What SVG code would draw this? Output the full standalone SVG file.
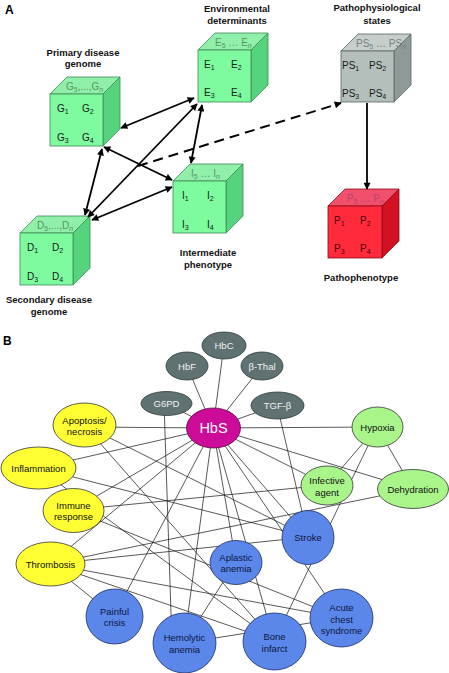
<svg xmlns="http://www.w3.org/2000/svg" width="449" height="673" viewBox="0 0 449 673">
<defs>
<marker id="ah" viewBox="0 0 10 10" refX="9" refY="5" markerWidth="9" markerHeight="7" markerUnits="userSpaceOnUse" orient="auto-start-reverse"><path d="M0,0 L10,5 L0,10 z" fill="#000"/></marker>
</defs>
<style>
text{font-family:"Liberation Sans",Arial,sans-serif}
.lbl{font-size:9.5px;font-weight:bold;fill:#111;text-anchor:middle}
.panel{font-size:12px;font-weight:bold;fill:#000}
.gf{fill:#7efb9e;stroke:#3e8c57;stroke-width:0.8}
.gt{fill:#90f0aa;stroke:#3e8c57;stroke-width:0.8}
.gs{fill:#56d37d;stroke:#3e8c57;stroke-width:0.8}
.sf{fill:#b4bfbc;stroke:#5a6663;stroke-width:0.8}
.st{fill:#c6cdcb;stroke:#5a6663;stroke-width:0.8}
.ss{fill:#8e9a97;stroke:#5a6663;stroke-width:0.8}
.rf{fill:#ff2a3c;stroke:#8c0b16;stroke-width:0.8}
.rt{fill:#f0506c;stroke:#8c0b16;stroke-width:0.8}
.rs{fill:#d21222;stroke:#8c0b16;stroke-width:0.8}
.ci{font-size:10px;fill:#142018}
.cg{font-size:10px;fill:#5a9468}
.cs{font-size:10px;fill:#77827f}
.cr{font-size:10px;fill:#b8446a}
.pi{font-size:10px;fill:#4a0006}
.arr{stroke:#000;stroke-width:1.8;fill:none;marker-start:url(#ah);marker-end:url(#ah)}
.edge{stroke:#111;stroke-width:0.7;fill:none}
.hbs{fill:#cc0b99;stroke:#5a0a44;stroke-width:0.8}
.gr{fill:#5f7171;stroke:#2c3838;stroke-width:0.8}
.ye{fill:#ffff33;stroke:#333;stroke-width:0.8}
.lg{fill:#aaf58a;stroke:#333;stroke-width:0.8}
.bl{fill:#5b87ea;stroke:#1c2c66;stroke-width:0.8}
.tw{font-size:9.5px;fill:#f2f2f2;text-anchor:middle}
.tk{font-size:9.5px;fill:#111;text-anchor:middle}
.tb{font-size:9.5px;fill:#0c1640;text-anchor:middle}
</style>

<text class="panel" x="5" y="14">A</text>
<text class="panel" x="3" y="345">B</text>

<!-- Panel A labels -->
<text class="lbl" x="83" y="56">Primary disease</text>
<text class="lbl" x="83" y="67">genome</text>
<text class="lbl" x="237" y="12">Environmental</text>
<text class="lbl" x="237" y="24">determinants</text>
<text class="lbl" x="377" y="11">Pathophysiological</text>
<text class="lbl" x="377" y="24">states</text>
<text class="lbl" x="208" y="256">Intermediate</text>
<text class="lbl" x="208" y="268">phenotype</text>
<text class="lbl" x="49" y="303">Secondary disease</text>
<text class="lbl" x="49" y="315">genome</text>
<text class="lbl" x="361" y="281">Pathophenotype</text>

<!-- Cubes -->
<g id="cube-G">
<polygon class="gt" points="50,94 67,77 120,77 103,94"/>
<polygon class="gs" points="103,94 120,77 120,129 103,146"/>
<rect class="gf" x="50" y="94" width="53" height="52"/>
<text class="cg" x="66" y="90">G<tspan dy="2" font-size="7">5</tspan><tspan dy="-2">,...,G</tspan><tspan dy="2" font-size="7" font-style="italic">n</tspan></text>
<text class="ci" x="57" y="112">G<tspan dy="2" font-size="7">1</tspan></text>
<text class="ci" x="82" y="112">G<tspan dy="2" font-size="7">2</tspan></text>
<text class="ci" x="57" y="141">G<tspan dy="2" font-size="7">3</tspan></text>
<text class="ci" x="82" y="141">G<tspan dy="2" font-size="7">4</tspan></text>
</g>
<g id="cube-E">
<polygon class="gt" points="198,50 215,33 268,33 251,50"/>
<polygon class="gs" points="251,50 268,33 268,85 251,102"/>
<rect class="gf" x="198" y="50" width="53" height="52"/>
<text class="cg" x="215" y="46">E<tspan dy="2" font-size="7">5</tspan><tspan dy="-2"> … E</tspan><tspan dy="2" font-size="7" font-style="italic">n</tspan></text>
<text class="ci" x="204" y="68">E<tspan dy="2" font-size="7">1</tspan></text>
<text class="ci" x="231" y="68">E<tspan dy="2" font-size="7">2</tspan></text>
<text class="ci" x="204" y="96">E<tspan dy="2" font-size="7">3</tspan></text>
<text class="ci" x="231" y="96">E<tspan dy="2" font-size="7">4</tspan></text>
</g>
<g id="cube-PS">
<polygon class="st" points="341,51 358,34 411,34 394,51"/>
<polygon class="ss" points="394,51 411,34 411,85 394,102"/>
<rect class="sf" x="341" y="51" width="53" height="51"/>
<text class="cs" x="356" y="47">PS<tspan dy="2" font-size="7">5</tspan><tspan dy="-2"> … PS</tspan><tspan dy="2" font-size="7" font-style="italic">n</tspan></text>
<text class="ci" x="342" y="69">PS<tspan dy="2" font-size="7">1</tspan></text>
<text class="ci" x="369" y="69">PS<tspan dy="2" font-size="7">2</tspan></text>
<text class="ci" x="342" y="97">PS<tspan dy="2" font-size="7">3</tspan></text>
<text class="ci" x="369" y="97">PS<tspan dy="2" font-size="7">4</tspan></text>
</g>
<g id="cube-P">
<polygon class="rt" points="328,206 345,189 399,189 382,206"/>
<polygon class="rs" points="382,206 399,189 399,241 382,258"/>
<rect class="rf" x="328" y="206" width="54" height="52"/>
<text class="cr" x="347" y="202">P<tspan dy="2" font-size="7">5</tspan><tspan dy="-2"> … P</tspan><tspan dy="2" font-size="7" font-style="italic">n</tspan></text>
<text class="pi" x="334" y="224">P<tspan dy="2" font-size="7">1</tspan></text>
<text class="pi" x="360" y="224">P<tspan dy="2" font-size="7">2</tspan></text>
<text class="pi" x="334" y="252">P<tspan dy="2" font-size="7">3</tspan></text>
<text class="pi" x="360" y="252">P<tspan dy="2" font-size="7">4</tspan></text>
</g>
<g id="cube-I">
<polygon class="gt" points="173,181 190,164 243,164 226,181"/>
<polygon class="gs" points="226,181 243,164 243,216 226,233"/>
<rect class="gf" x="173" y="181" width="53" height="52"/>
<text class="cg" x="191" y="177">I<tspan dy="2" font-size="7">5</tspan><tspan dy="-2"> … I</tspan><tspan dy="2" font-size="7" font-style="italic">n</tspan></text>
<text class="ci" x="182" y="199">I<tspan dy="2" font-size="7">1</tspan></text>
<text class="ci" x="207" y="199">I<tspan dy="2" font-size="7">2</tspan></text>
<text class="ci" x="182" y="228">I<tspan dy="2" font-size="7">3</tspan></text>
<text class="ci" x="207" y="228">I<tspan dy="2" font-size="7">4</tspan></text>
</g>
<g id="cube-D">
<polygon class="gt" points="20,233 37,216 90,216 73,233"/>
<polygon class="gs" points="73,233 90,216 90,268 73,285"/>
<rect class="gf" x="20" y="233" width="53" height="52"/>
<text class="cg" x="37" y="229">D<tspan dy="2" font-size="7">5</tspan><tspan dy="-2">,...,D</tspan><tspan dy="2" font-size="7" font-style="italic">n</tspan></text>
<text class="ci" x="27" y="251">D<tspan dy="2" font-size="7">1</tspan></text>
<text class="ci" x="52" y="251">D<tspan dy="2" font-size="7">2</tspan></text>
<text class="ci" x="27" y="280">D<tspan dy="2" font-size="7">3</tspan></text>
<text class="ci" x="52" y="280">D<tspan dy="2" font-size="7">4</tspan></text>
</g>

<!-- Panel A connectors -->
<g id="connectors-A">
<line class="arr" x1="121" y1="128" x2="194" y2="98"/>
<line class="arr" x1="104" y1="147" x2="172" y2="180"/>
<line class="arr" x1="102" y1="149" x2="85" y2="215"/>
<line class="arr" x1="197" y1="104" x2="88" y2="217"/>
<line class="arr" x1="202" y1="105" x2="191" y2="163"/>
<line class="arr" x1="172" y1="187" x2="92" y2="220"/>
<line x1="138" y1="166" x2="341" y2="103" stroke="#000" stroke-width="2" stroke-dasharray="10,6" marker-end="url(#ah)"/>
<line x1="367" y1="103" x2="367" y2="189" stroke="#000" stroke-width="1.8" marker-end="url(#ah)"/>
</g>

<!-- Panel B connectors -->
<g id="connectors-B">
<line class="edge" x1="213" y1="428" x2="166" y2="403"/>
<line class="edge" x1="213" y1="428" x2="187" y2="366"/>
<line class="edge" x1="213" y1="428" x2="224" y2="345"/>
<line class="edge" x1="213" y1="428" x2="262" y2="366"/>
<line class="edge" x1="213" y1="428" x2="277" y2="405"/>
<line class="edge" x1="213" y1="428" x2="84" y2="427"/>
<line class="edge" x1="213" y1="428" x2="38" y2="468"/>
<line class="edge" x1="213" y1="428" x2="73" y2="510"/>
<line class="edge" x1="213" y1="428" x2="50" y2="564"/>
<line class="edge" x1="213" y1="428" x2="377" y2="427"/>
<line class="edge" x1="213" y1="428" x2="327" y2="485"/>
<line class="edge" x1="213" y1="428" x2="413" y2="489"/>
<line class="edge" x1="213" y1="428" x2="308" y2="537"/>
<line class="edge" x1="213" y1="428" x2="236" y2="562"/>
<line class="edge" x1="213" y1="428" x2="114" y2="616"/>
<line class="edge" x1="213" y1="428" x2="184" y2="643"/>
<line class="edge" x1="213" y1="428" x2="274" y2="641"/>
<line class="edge" x1="213" y1="428" x2="341" y2="618"/>
<line class="edge" x1="164" y1="403" x2="172" y2="643"/>
<line class="edge" x1="277" y1="405" x2="308" y2="537"/>
<line class="edge" x1="84" y1="425" x2="308" y2="537"/>
<line class="edge" x1="84" y1="425" x2="274" y2="641"/>
<line class="edge" x1="38" y1="468" x2="308" y2="537"/>
<line class="edge" x1="38" y1="468" x2="274" y2="641"/>
<line class="edge" x1="73" y1="510" x2="327" y2="485"/>
<line class="edge" x1="50" y1="564" x2="413" y2="489"/>
<line class="edge" x1="50" y1="564" x2="308" y2="537"/>
<line class="edge" x1="50" y1="564" x2="341" y2="618"/>
<line class="edge" x1="50" y1="564" x2="274" y2="641"/>
<line class="edge" x1="50" y1="564" x2="114" y2="616"/>
<line class="edge" x1="377" y1="427" x2="327" y2="485"/>
<line class="edge" x1="377" y1="427" x2="413" y2="489"/>
<line class="edge" x1="377" y1="427" x2="274" y2="641"/>
<line class="edge" x1="184" y1="643" x2="236" y2="562"/>
<line class="edge" x1="184" y1="643" x2="341" y2="618"/>
<line class="edge" x1="73" y1="510" x2="341" y2="618"/>
</g>

<!-- Panel B nodes -->
<g id="n-G6PD"><ellipse class="gr" cx="166.5" cy="403.5" rx="25.5" ry="12"/><text class="tw" x="166.5" y="407">G6PD</text></g>
<g id="n-HbF"><ellipse class="gr" cx="187" cy="366" rx="21" ry="14"/><text class="tw" x="187" y="369.5">HbF</text></g>
<g id="n-HbC"><ellipse class="gr" cx="224" cy="345.5" rx="22" ry="13.5"/><text class="tw" x="224" y="349">HbC</text></g>
<g id="n-bThal"><ellipse class="gr" cx="262" cy="366" rx="21" ry="14"/><text class="tw" x="262" y="369.5">β-Thal</text></g>
<g id="n-TGFb"><ellipse class="gr" cx="277.5" cy="405.5" rx="26.5" ry="13.5"/><text class="tw" x="277.5" y="409">TGF-β</text></g>
<g id="n-HbS"><ellipse class="hbs" cx="213.5" cy="428" rx="27" ry="20"/><text x="213.5" y="433" text-anchor="middle" font-size="14.5" fill="#fff">HbS</text></g>
<g id="n-Apoptosis"><ellipse class="ye" cx="84.5" cy="425" rx="31.5" ry="22"/><text class="tk" x="84.5" y="423.5">Apoptosis/</text><text class="tk" x="84.5" y="434.5">necrosis</text></g>
<g id="n-Inflammation"><ellipse class="ye" cx="38.5" cy="468" rx="37.5" ry="21"/><text class="tk" x="38.5" y="471.5">Inflammation</text></g>
<g id="n-Immune"><ellipse class="ye" cx="73.5" cy="510.5" rx="30.5" ry="22"/><text class="tk" x="73.5" y="509">Immune</text><text class="tk" x="73.5" y="520">response</text></g>
<g id="n-Thrombosis"><ellipse class="ye" cx="50.5" cy="564" rx="34.5" ry="22"/><text class="tk" x="50.5" y="567.5">Thrombosis</text></g>
<g id="n-Hypoxia"><ellipse class="lg" cx="377.5" cy="427" rx="25.5" ry="20"/><text class="tk" x="377.5" y="430.5">Hypoxia</text></g>
<g id="n-Infective"><ellipse class="lg" cx="327" cy="485.5" rx="26" ry="19.5"/><text class="tk" x="327" y="484">Infective</text><text class="tk" x="327" y="495.5">agent</text></g>
<g id="n-Dehydration"><ellipse class="lg" cx="413" cy="489" rx="35.5" ry="19.5"/><text class="tk" x="413" y="492.5">Dehydration</text></g>
<g id="n-Stroke"><ellipse class="bl" cx="308" cy="537.5" rx="26" ry="27"/><text class="tb" x="308" y="541">Stroke</text></g>
<g id="n-Aplastic"><ellipse class="bl" cx="236" cy="562.5" rx="26" ry="22"/><text class="tb" x="236" y="561">Aplastic</text><text class="tb" x="236" y="572">anemia</text></g>
<g id="n-Painful"><ellipse class="bl" cx="114.5" cy="616.5" rx="28.5" ry="27.5"/><text class="tb" x="114.5" y="614.5">Painful</text><text class="tb" x="114.5" y="626">crisis</text></g>
<g id="n-Hemolytic"><ellipse class="bl" cx="184.5" cy="643" rx="31.5" ry="30"/><text class="tb" x="184.5" y="641">Hemolytic</text><text class="tb" x="184.5" y="652.5">anemia</text></g>
<g id="n-Bone"><ellipse class="bl" cx="274.5" cy="641.5" rx="31.5" ry="28.5"/><text class="tb" x="274.5" y="640">Bone</text><text class="tb" x="274.5" y="651.5">infarct</text></g>
<g id="n-Acute"><ellipse class="bl" cx="341.5" cy="618" rx="31.5" ry="29"/><text class="tb" x="341.5" y="611">Acute</text><text class="tb" x="341.5" y="622.5">chest</text><text class="tb" x="341.5" y="634">syndrome</text></g>
</svg>
